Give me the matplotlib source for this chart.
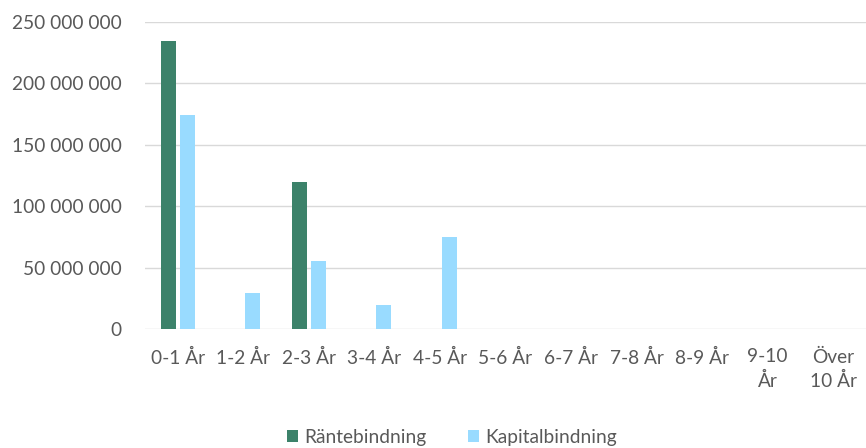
import matplotlib
matplotlib.use("Agg")
import matplotlib.pyplot as plt
import numpy as np
from matplotlib.ticker import FuncFormatter

categories = ["0-1 År", "1-2 År", "2-3 År", "3-4 År", "4-5 År", "5-6 År",
              "6-7 År", "7-8 År", "8-9 År", "9-10\nÅr", "Över\n10 År"]
rantebindning = [234_500_000, 0, 120_000_000, 0, 0, 0, 0, 0, 0, 0, 0]
kapitalbindning = [174_000_000, 29_500_000, 55_000_000, 19_500_000, 75_000_000, 0, 0, 0, 0, 0, 0]
series_names = ["Räntebindning", "Kapitalbindning"]
yticks = [0, 50_000_000, 100_000_000, 150_000_000, 200_000_000, 250_000_000]

plt.rcParams['font.family'] = ['Lato', 'DejaVu Sans']
txt = "#595959"
fs = 13.8

fig = plt.figure(figsize=(8.66, 4.48), dpi=100)
ax = fig.add_axes([145/866, 1-329/448, 1-145/866, (329-22)/448])

x = np.arange(len(categories))
w = 0.229
off = 0.145
ax.bar(x - off, rantebindning, w, color="#3c826a", label=series_names[0], zorder=3)
ax.bar(x + off, kapitalbindning, w, color="#99dbff", label=series_names[1], zorder=3)

ax.set_xlim(-0.5, len(categories) - 0.5)
ax.set_ylim(0, 250_000_000)
ax.set_yticks(yticks)
ax.yaxis.set_major_formatter(FuncFormatter(lambda v, p: f"{int(v):,}".replace(",", " ")))
ax.set_xticks(x)
ax.set_xticklabels(categories, va="top", linespacing=1.45)
ax.grid(axis="y", color="#d9d9d9", linewidth=1, zorder=0)
ax.set_axisbelow(True)
for s in ax.spines.values():
    s.set_visible(False)
ax.tick_params(axis="both", length=0, colors=txt, labelsize=fs)
ax.tick_params(axis="x", pad=14)
ax.tick_params(axis="y", pad=17)

leg = fig.legend(loc="center", bbox_to_anchor=(452/866, 1-437/448), ncol=2, frameon=False,
                 fontsize=fs, handlelength=0.57, handleheight=0.57, columnspacing=2.2,
                 handletextpad=0.3, labelcolor=txt)

fig.savefig("out.png", dpi=100)
